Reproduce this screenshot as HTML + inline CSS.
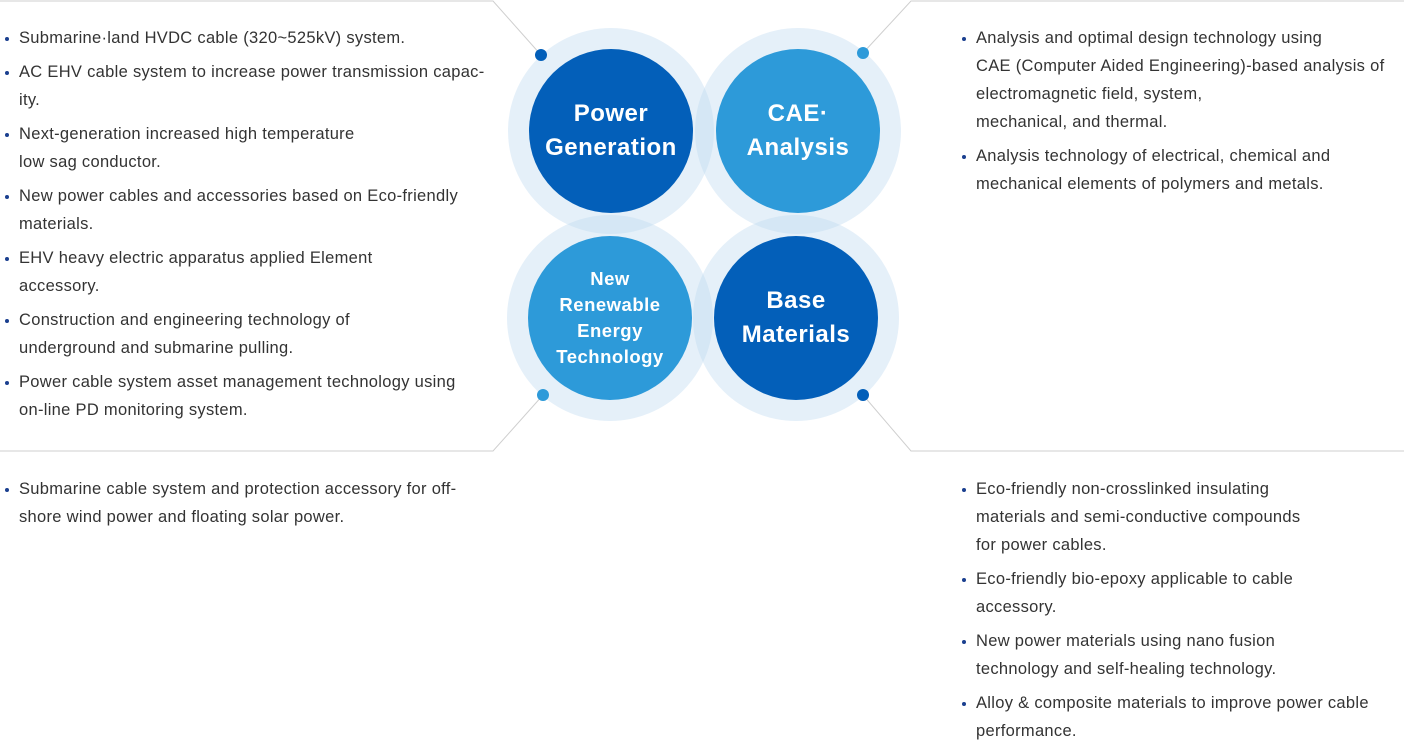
<!DOCTYPE html>
<html><head><meta charset="utf-8"><style>
body{margin:0;width:1404px;height:742px;background:#fff;position:relative;overflow:hidden;font-family:"Liberation Sans",sans-serif;}
ul{position:absolute;margin:0;padding:0;list-style:none;font-size:16.5px;line-height:28px;color:#333;letter-spacing:0.3px}
li{position:relative;padding-left:19px;margin-bottom:6px;white-space:nowrap}
li:before{content:"";position:absolute;left:5px;top:13px;width:4px;height:4px;border-radius:50%;background:#1a3f8f}
.c{position:absolute;border-radius:50%;display:flex;align-items:center;justify-content:center;text-align:center;color:#fff;font-weight:bold;letter-spacing:0.5px}
.r{position:absolute;border-radius:50%;width:206px;height:206px;background:rgba(190,218,240,0.4)}
</style></head><body>
<svg width="1404" height="742" style="position:absolute;left:0;top:0">
<g stroke="#cfcfcf" stroke-width="1" fill="none">
<polyline points="0,1 493,1 541,55"/>
<polyline points="0,451 493,451 543,395"/>
<polyline points="1404,1 911,1 863,53"/>
<polyline points="1404,451 911,451 863,395"/>
</g></svg>
<div class="r" style="left:508px;top:28px"></div>
<div class="r" style="left:695px;top:28px"></div>
<div class="r" style="left:507px;top:215px"></div>
<div class="r" style="left:693px;top:215px"></div>
<div class="c" style="left:529px;top:49px;width:164px;height:164px;background:#035fb9;font-size:24px;line-height:34px">Power<br>Generation</div>
<div class="c" style="left:716px;top:49px;width:164px;height:164px;background:#2d9ad9;font-size:24px;line-height:34px">CAE·<br>Analysis</div>
<div class="c" style="left:528px;top:236px;width:164px;height:164px;background:#2d9ad9;font-size:18.5px;line-height:26px">New<br>Renewable<br>Energy<br>Technology</div>
<div class="c" style="left:714px;top:236px;width:164px;height:164px;background:#035fb9;font-size:24px;line-height:34px">Base<br>Materials</div>
<svg width="1404" height="742" style="position:absolute;left:0;top:0">
<circle cx="541" cy="55" r="6" fill="#035fb9"/>
<circle cx="863" cy="53" r="6" fill="#2d9ad9"/>
<circle cx="543" cy="395" r="6" fill="#2d9ad9"/>
<circle cx="863" cy="395" r="6" fill="#035fb9"/>
</svg>
<ul style="left:0;top:24px;width:490px">
<li>Submarine·land HVDC cable (320~525kV) system.</li>
<li>AC EHV cable system to increase power transmission capac-<br>ity.</li>
<li>Next-generation increased high temperature<br>low sag conductor.</li>
<li>New power cables and accessories based on Eco-friendly<br>materials.</li>
<li>EHV heavy electric apparatus applied Element<br>accessory.</li>
<li>Construction and engineering technology of<br>underground and submarine pulling.</li>
<li>Power cable system asset management technology using<br>on-line PD monitoring system.</li>
</ul>
<ul style="left:957px;top:24px;width:447px">
<li>Analysis and optimal design technology using<br>CAE (Computer Aided Engineering)-based analysis of<br>electromagnetic field, system,<br>mechanical, and thermal.</li>
<li>Analysis technology of electrical, chemical and<br>mechanical elements of polymers and metals.</li>
</ul>
<ul style="left:0;top:475px;width:490px">
<li>Submarine cable system and protection accessory for off-<br>shore wind power and floating solar power.</li>
</ul>
<ul style="left:957px;top:475px;width:447px">
<li>Eco-friendly non-crosslinked insulating<br>materials and semi-conductive compounds<br>for power cables.</li>
<li>Eco-friendly bio-epoxy applicable to cable<br>accessory.</li>
<li>New power materials using nano fusion<br>technology and self-healing technology.</li>
<li>Alloy &amp; composite materials to improve power cable<br>performance.</li>
</ul>
</body></html>
